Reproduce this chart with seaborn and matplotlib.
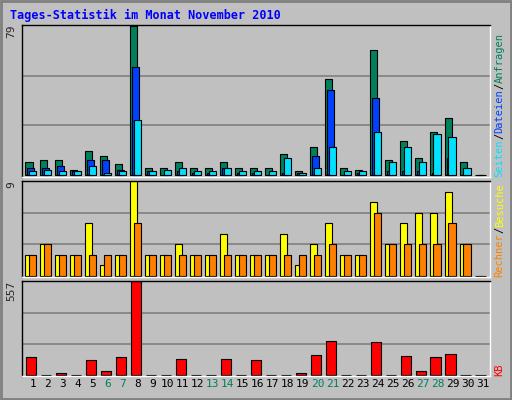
import matplotlib
matplotlib.use("Agg")
import matplotlib.pyplot as plt
import seaborn as sns
import numpy as np

days = list(range(1, 32))
hits  = [7,8,8,3,13,10,6,79,4,4,7,4,4,7,4,4,4,11,2,15,51,4,3,66,8,18,9,23,30,7,0]
files = [4,4,5,2,8,8,3,57,2,0,2,1,1,4,1,1,0,1,1,10,45,0,1,41,2,2,2,1,9,0,0]
pages = [2,3,2,2,5,1,2,29,2,3,4,2,2,4,2,2,2,9,1,4,15,2,2,23,7,15,7,22,20,4,0]
visits = [2,3,2,2,5,1,2,9,2,2,3,2,2,4,2,2,2,4,1,3,5,2,2,7,3,5,6,6,8,3,0]
sites  = [2,3,2,2,2,2,2,5,2,2,2,2,2,2,2,2,2,2,2,2,3,2,2,6,3,3,3,3,5,3,0]
kbytes = [106,0,14,0,87,26,106,557,0,0,94,0,0,94,0,87,0,0,14,118,203,0,0,197,0,112,26,106,124,0,0]
weekends = [6,7,13,14,20,21,27,28]

sns.set_style("white")
plt.rcParams['font.family'] = ['DejaVu Sans Mono']
bg = "#C0C0C0"
fig = plt.figure(figsize=(5.12, 4.0), dpi=100, facecolor=bg)
x = np.array(days, dtype=float)

def setup(ax, ymax, label):
    ax.set_facecolor(bg)
    ax.set_xlim(0.27, 31.5)
    ax.set_ylim(-ymax * 0.012, ymax * 1.005)
    for f in (1/3, 2/3):
        ax.axhline(ymax * f, color="#808080", lw=1.2, zorder=0)
    ax.set_yticks([])
    ax.set_xticks([])
    for s in ax.spines.values():
        s.set_color("black"); s.set_linewidth(1)
    ax.spines['bottom'].set_color("white"); ax.spines['right'].set_color("white")
    ax.text(-0.012, 1.0, label, transform=ax.transAxes, rotation=90,
            ha="right", va="top", fontsize=8)

ek = dict(edgecolor="black", linewidth=0.8, align="edge")
ax1 = fig.add_axes([0.043, 0.5575, 0.914, 0.38])
setup(ax1, 79, "79")
ax1.bar(x - 0.53, hits, 0.5, color="#00805C", **ek)
ax1.bar(x - 0.40, files, 0.5, color="#0040FF", **ek)
ax1.bar(x - 0.27, pages, 0.5, color="#00E0FF", **ek)

ax2 = fig.add_axes([0.043, 0.3075, 0.914, 0.24])
setup(ax2, 9, "9")
ax2.bar(x - 0.53, visits, 0.5, color="#FFFF00", **ek)
ax2.bar(x - 0.27, sites, 0.5, color="#FF8000", **ek)

ax3 = fig.add_axes([0.043, 0.06, 0.914, 0.2375])
setup(ax3, 557, "557")
ax3.bar(x - 0.47, kbytes, 0.69, color="#FF0000", **ek)
ax3.set_xticks(days)
ax3.set_xticklabels([str(d) for d in days], fontsize=8)
ax3.tick_params(axis="x", length=0, pad=2)
for t, d in zip(ax3.get_xticklabels(), days):
    t.set_color("#00805C" if d in weekends else "black")

fig.text(0.02, 0.962, "Tages-Statistik im Monat November 2010", color="#0000FF",
         fontsize=8.5, fontweight="bold", ha="left", va="center")

FS = 7.5
step = FS * 0.602 / 72 * 100 / 400
def rlabel(y_bottom, parts):
    yy = y_bottom
    for txt, col in parts:
        fig.text(0.976, yy, txt, rotation=90, color=col, fontsize=FS,
                 ha="center", va="bottom")
        yy += len(txt) * step

rlabel(0.5575, [("Seiten", "#00E0FF"), ("/", "black"), ("Dateien", "#0040FF"),
                ("/", "black"), ("Anfragen", "#00805C")])
rlabel(0.3075, [("Rechner", "#FF8000"), ("/", "black"), ("Besuche", "#FFFF00")])
rlabel(0.06, [("KB", "#FF0000")])

fig.patches.append(plt.Rectangle((0.002, 0.002), 0.996, 0.996, transform=fig.transFigure,
                                 fill=False, edgecolor="#808080", lw=2))
fig.savefig("out.png", dpi=100, facecolor=bg)
